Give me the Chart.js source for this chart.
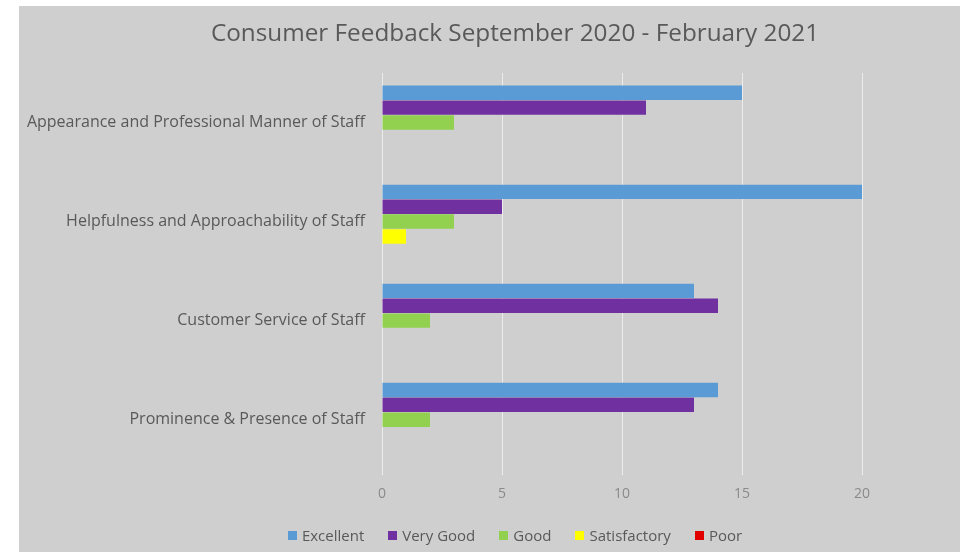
<!DOCTYPE html>
<html>
<head>
<meta charset="utf-8">
<script src="https://cdn.jsdelivr.net/npm/chart.js@4/dist/chart.umd.min.js"></script>
<style>
  html, body { margin: 0; padding: 0; background: #fff; }
  #wrap { position: absolute; left: 19px; top: 6px; width: 941px; height: 546px; background: #cfcfcf;
          font-family: "Open Sans", Lato, sans-serif; color: #595959; }
  #chart { position: absolute; left: 0; top: 0; }
  .title { position: absolute; left: 0; width: 992px; top: 10px; text-align: center; font-size: 24.3px; line-height: 32px; }
  .legend { position: absolute; left: 0; width: 992px; top: 518px; display: flex; justify-content: center; gap: 24px;
            font-size: 15px; line-height: 22px; }
  .legend span { display: flex; align-items: center; }
  .legend i { display: inline-block; width: 9px; height: 9px; margin-right: 5px; }
</style>
</head>
<body>
<div id="wrap">
  <canvas id="chart" width="941" height="546"></canvas>
  <div class="title">Consumer Feedback September 2020 - February 2021</div>
  <div class="legend" id="legend"></div>
</div>
<script>
// ── Chart data ──
const CATEGORIES = [
  'Appearance and Professional Manner of Staff',
  'Helpfulness and Approachability of Staff',
  'Customer Service of Staff',
  'Prominence & Presence of Staff',
];
const SERIES_NAMES = ['Excellent', 'Very Good', 'Good', 'Satisfactory', 'Poor'];
const EXCELLENT    = [15, 20, 13, 14];
const VERY_GOOD    = [11, 5, 14, 13];
const GOOD         = [3, 3, 2, 2];
const SATISFACTORY = [0, 1, 0, 0];
const POOR         = [0, 0, 0, 0];
const X_TICKS      = [0, 5, 10, 15, 20];

const COLORS = ['#5b9bd5', '#7030a0', '#92d050', '#ffff00', '#e00000'];
const FONT = '"Open Sans", Lato, sans-serif';

const chart = new Chart(document.getElementById('chart'), {
  type: 'bar',
  data: {
    labels: CATEGORIES,
    datasets: [EXCELLENT, VERY_GOOD, GOOD, SATISFACTORY, POOR].map((data, i) => ({
      label: SERIES_NAMES[i], data,
      backgroundColor: COLORS[i], borderWidth: 0,
      categoryPercentage: 0.75, barPercentage: 0.97,
    })),
  },
  options: {
    indexAxis: 'y',
    responsive: false,
    animation: false,
    layout: { padding: { left: 0, right: 98, top: 67, bottom: 40 } },
    plugins: {
      legend: { display: false },
      tooltip: { enabled: false },
    },
    scales: {
      x: {
        min: 0, max: 20,
        afterBuildTicks: s => { s.ticks = X_TICKS.map(v => ({ value: v })); },
        grid: { color: 'rgba(255,255,255,0.6)', lineWidth: 1, tickLength: 6 },
        border: { display: false },
        ticks: { color: '#8a8a8a', padding: 10, font: { family: FONT, size: 14 } },
      },
      y: {
        afterFit: s => { s.width = 363; },
        grid: { display: false },
        border: { display: false },
        ticks: { color: '#595959', padding: 9, font: { family: FONT, size: 16 } },
      },
    },
  },
});

// ── Legend (built from the chart's datasets) ──
document.getElementById('legend').innerHTML = chart.data.datasets
  .map(d => `<span><i style="background:${d.backgroundColor}"></i>${d.label}</span>`).join('');
</script>
</body>
</html>
